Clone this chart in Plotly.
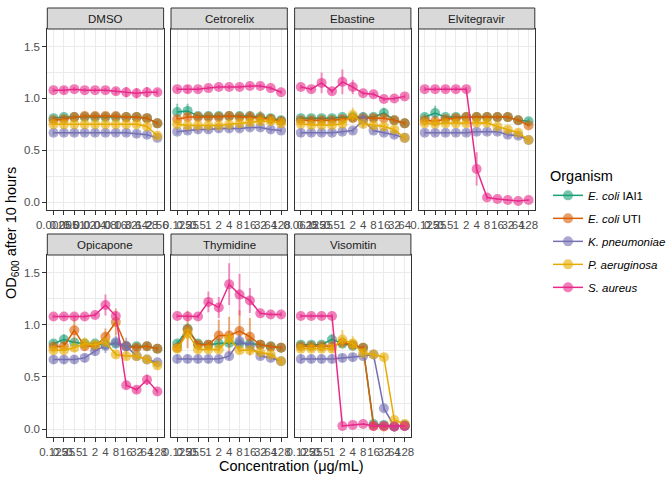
import plotly.graph_objects as go

# ---------------- data ----------------
drugs = ["DMSO", "Cetrorelix", "Ebastine", "Elvitegravir", "Opicapone", "Thymidine", "Visomitin"]

conc_dmso = ["0.0025", "0.005", "0.01", "0.02", "0.04", "0.08", "0.16", "0.32", "0.64", "1.28", "2.56"]
conc_std = ["0.125", "0.25", "0.5", "1", "2", "4", "8", "16", "32", "64", "128"]
conc_ebastine = ["0.0625", "0.125", "0.25", "0.5", "1", "2", "4", "8", "16", "32", "64"]

organisms = ["E. coli IAI1", "E. coli UTI", "K. pneumoniae", "P. aeruginosa", "S. aureus"]
organism_labels = ["<i>E. coli</i> IAI1", "<i>E. coli</i> UTI", "<i>K. pneumoniae</i>",
                   "<i>P. aeruginosa</i>", "<i>S. aureus</i>"]
colors = ["#1B9E77", "#D95F02", "#7570B3", "#E6AB02", "#E7298A"]

od_dmso = {
    "E. coli IAI1": [0.81, 0.82, 0.82, 0.82, 0.82, 0.82, 0.82, 0.82, 0.82, 0.81, 0.76],
    "E. coli UTI": [0.79, 0.80, 0.82, 0.83, 0.83, 0.83, 0.83, 0.82, 0.82, 0.81, 0.76],
    "K. pneumoniae": [0.67, 0.67, 0.67, 0.67, 0.67, 0.67, 0.67, 0.67, 0.66, 0.65, 0.62],
    "P. aeruginosa": [0.75, 0.75, 0.75, 0.75, 0.75, 0.75, 0.75, 0.75, 0.75, 0.73, 0.64],
    "S. aureus": [1.08, 1.08, 1.09, 1.08, 1.08, 1.08, 1.07, 1.06, 1.05, 1.06, 1.06],
}
sd_dmso = {
    "E. coli IAI1": [0.02, 0.02, 0.02, 0.02, 0.02, 0.02, 0.02, 0.02, 0.02, 0.02, 0.02],
    "E. coli UTI": [0.02, 0.02, 0.02, 0.02, 0.02, 0.02, 0.02, 0.02, 0.02, 0.02, 0.02],
    "K. pneumoniae": [0.03, 0.03, 0.03, 0.03, 0.03, 0.03, 0.03, 0.03, 0.03, 0.03, 0.02],
    "P. aeruginosa": [0.03, 0.03, 0.03, 0.03, 0.03, 0.03, 0.03, 0.03, 0.03, 0.04, 0.03],
    "S. aureus": [0.02, 0.03, 0.02, 0.02, 0.02, 0.02, 0.03, 0.05, 0.05, 0.05, 0.03],
}

od_cetrorelix = {
    "E. coli IAI1": [0.87, 0.88, 0.83, 0.83, 0.83, 0.83, 0.83, 0.83, 0.82, 0.81, 0.79],
    "E. coli UTI": [0.80, 0.82, 0.82, 0.82, 0.82, 0.83, 0.82, 0.82, 0.81, 0.80, 0.78],
    "K. pneumoniae": [0.68, 0.69, 0.70, 0.70, 0.71, 0.71, 0.71, 0.72, 0.72, 0.70, 0.69],
    "P. aeruginosa": [0.75, 0.74, 0.74, 0.74, 0.74, 0.75, 0.76, 0.77, 0.78, 0.78, 0.76],
    "S. aureus": [1.09, 1.09, 1.09, 1.10, 1.11, 1.11, 1.11, 1.12, 1.12, 1.10, 1.06],
}
sd_cetrorelix = {
    "E. coli IAI1": [0.08, 0.07, 0.02, 0.02, 0.02, 0.02, 0.02, 0.03, 0.03, 0.03, 0.04],
    "E. coli UTI": [0.03, 0.03, 0.02, 0.02, 0.02, 0.03, 0.03, 0.06, 0.07, 0.05, 0.03],
    "K. pneumoniae": [0.03, 0.03, 0.03, 0.03, 0.03, 0.03, 0.03, 0.03, 0.03, 0.03, 0.02],
    "P. aeruginosa": [0.03, 0.03, 0.03, 0.03, 0.03, 0.03, 0.03, 0.03, 0.03, 0.03, 0.03],
    "S. aureus": [0.02, 0.04, 0.02, 0.02, 0.02, 0.02, 0.02, 0.02, 0.02, 0.02, 0.02],
}

od_ebastine = {
    "E. coli IAI1": [0.81, 0.81, 0.81, 0.81, 0.82, 0.82, 0.82, 0.82, 0.86, 0.79, 0.76],
    "E. coli UTI": [0.79, 0.79, 0.79, 0.79, 0.80, 0.81, 0.81, 0.81, 0.81, 0.79, 0.76],
    "K. pneumoniae": [0.67, 0.67, 0.67, 0.67, 0.68, 0.69, 0.79, 0.69, 0.67, 0.65, 0.62],
    "P. aeruginosa": [0.755, 0.745, 0.745, 0.745, 0.755, 0.84, 0.755, 0.74, 0.73, 0.70, 0.62],
    "S. aureus": [1.11, 1.09, 1.15, 1.07, 1.16, 1.11, 1.05, 1.04, 0.995, 1.00, 1.02],
}
sd_ebastine = {
    "E. coli IAI1": [0.02, 0.02, 0.02, 0.03, 0.02, 0.02, 0.02, 0.02, 0.05, 0.02, 0.02],
    "E. coli UTI": [0.02, 0.02, 0.02, 0.02, 0.02, 0.03, 0.02, 0.02, 0.02, 0.02, 0.02],
    "K. pneumoniae": [0.04, 0.03, 0.03, 0.03, 0.03, 0.03, 0.08, 0.03, 0.03, 0.03, 0.02],
    "P. aeruginosa": [0.03, 0.03, 0.03, 0.03, 0.03, 0.07, 0.03, 0.03, 0.03, 0.03, 0.02],
    "S. aureus": [0.02, 0.02, 0.10, 0.02, 0.12, 0.07, 0.02, 0.02, 0.02, 0.02, 0.02],
}

od_elvitegravir = {
    "E. coli IAI1": [0.82, 0.86, 0.82, 0.82, 0.82, 0.82, 0.82, 0.82, 0.82, 0.79, 0.78],
    "E. coli UTI": [0.79, 0.78, 0.80, 0.81, 0.82, 0.82, 0.82, 0.82, 0.82, 0.79, 0.74],
    "K. pneumoniae": [0.67, 0.67, 0.67, 0.67, 0.67, 0.68, 0.68, 0.68, 0.65, 0.64, 0.60],
    "P. aeruginosa": [0.76, 0.755, 0.76, 0.76, 0.76, 0.765, 0.765, 0.73, 0.70, 0.67, 0.60],
    "S. aureus": [1.09, 1.09, 1.09, 1.09, 1.09, 0.32, 0.045, 0.03, 0.02, 0.01, 0.02],
}
sd_elvitegravir = {
    "E. coli IAI1": [0.03, 0.07, 0.02, 0.02, 0.02, 0.02, 0.02, 0.02, 0.02, 0.02, 0.03],
    "E. coli UTI": [0.02, 0.02, 0.02, 0.02, 0.02, 0.02, 0.02, 0.02, 0.02, 0.02, 0.02],
    "K. pneumoniae": [0.03, 0.03, 0.03, 0.03, 0.03, 0.03, 0.03, 0.03, 0.03, 0.03, 0.02],
    "P. aeruginosa": [0.03, 0.03, 0.03, 0.03, 0.03, 0.03, 0.03, 0.03, 0.03, 0.03, 0.03],
    "S. aureus": [0.02, 0.02, 0.02, 0.02, 0.02, 0.16, 0.02, 0.01, 0.01, 0.01, 0.01],
}

od_opicapone = {
    "E. coli IAI1": [0.82, 0.86, 0.83, 0.82, 0.82, 0.81, 0.82, 0.795, 0.795, 0.795, 0.77],
    "E. coli UTI": [0.79, 0.795, 0.947, 0.795, 0.795, 0.886, 1.027, 0.795, 0.78, 0.795, 0.77],
    "K. pneumoniae": [0.667, 0.667, 0.667, 0.683, 0.747, 0.80, 0.834, 0.795, 0.70, 0.667, 0.64],
    "P. aeruginosa": [0.757, 0.757, 0.78, 0.82, 0.81, 0.834, 0.715, 0.70, 0.70, 0.667, 0.61],
    "S. aureus": [1.08, 1.08, 1.08, 1.08, 1.095, 1.19, 1.085, 0.42, 0.377, 0.473, 0.36],
}
sd_opicapone = {
    "E. coli IAI1": [0.03, 0.05, 0.02, 0.02, 0.02, 0.02, 0.02, 0.02, 0.02, 0.02, 0.02],
    "E. coli UTI": [0.03, 0.04, 0.12, 0.04, 0.03, 0.08, 0.13, 0.03, 0.04, 0.03, 0.02],
    "K. pneumoniae": [0.04, 0.04, 0.04, 0.04, 0.04, 0.07, 0.06, 0.08, 0.03, 0.03, 0.02],
    "P. aeruginosa": [0.03, 0.03, 0.04, 0.06, 0.03, 0.03, 0.03, 0.03, 0.03, 0.03, 0.03],
    "S. aureus": [0.02, 0.02, 0.02, 0.02, 0.02, 0.10, 0.04, 0.03, 0.03, 0.05, 0.02],
}

od_thymidine = {
    "E. coli IAI1": [0.82, 0.963, 0.82, 0.81, 0.82, 0.826, 0.82, 0.82, 0.81, 0.795, 0.78],
    "E. coli UTI": [0.78, 0.956, 0.81, 0.81, 0.898, 0.898, 0.94, 0.886, 0.81, 0.79, 0.78],
    "K. pneumoniae": [0.673, 0.673, 0.673, 0.673, 0.673, 0.70, 0.844, 0.80, 0.70, 0.683, 0.65],
    "P. aeruginosa": [0.77, 0.918, 0.763, 0.763, 0.763, 0.867, 0.757, 0.757, 0.737, 0.715, 0.65],
    "S. aureus": [1.085, 1.08, 1.08, 1.22, 1.166, 1.39, 1.29, 1.234, 1.11, 1.10, 1.10],
}
sd_thymidine = {
    "E. coli IAI1": [0.03, 0.05, 0.02, 0.02, 0.03, 0.03, 0.02, 0.02, 0.02, 0.02, 0.02],
    "E. coli UTI": [0.03, 0.18, 0.03, 0.03, 0.15, 0.18, 0.20, 0.18, 0.03, 0.03, 0.02],
    "K. pneumoniae": [0.04, 0.04, 0.04, 0.04, 0.04, 0.04, 0.06, 0.04, 0.03, 0.03, 0.02],
    "P. aeruginosa": [0.03, 0.06, 0.03, 0.03, 0.03, 0.05, 0.03, 0.03, 0.03, 0.03, 0.03],
    "S. aureus": [0.02, 0.02, 0.02, 0.10, 0.10, 0.20, 0.20, 0.12, 0.02, 0.02, 0.02],
}

od_visomitin = {
    "E. coli IAI1": [0.81, 0.81, 0.81, 0.86, 0.82, 0.80, 0.78, 0.048, 0.04, 0.025, 0.04],
    "E. coli UTI": [0.795, 0.795, 0.795, 0.795, 0.83, 0.81, 0.78, 0.03, 0.025, 0.025, 0.03],
    "K. pneumoniae": [0.673, 0.673, 0.673, 0.673, 0.683, 0.69, 0.70, 0.715, 0.20, 0.025, 0.03],
    "P. aeruginosa": [0.77, 0.77, 0.77, 0.77, 0.86, 0.82, 0.73, 0.715, 0.69, 0.087, 0.048],
    "S. aureus": [1.085, 1.085, 1.085, 1.085, 0.03, 0.04, 0.048, 0.03, 0.03, 0.025, 0.03],
}
sd_visomitin = {
    "E. coli IAI1": [0.03, 0.03, 0.02, 0.05, 0.02, 0.02, 0.02, 0.01, 0.01, 0.01, 0.01],
    "E. coli UTI": [0.02, 0.02, 0.02, 0.02, 0.03, 0.02, 0.02, 0.01, 0.01, 0.01, 0.01],
    "K. pneumoniae": [0.04, 0.04, 0.04, 0.04, 0.04, 0.04, 0.03, 0.03, 0.03, 0.01, 0.01],
    "P. aeruginosa": [0.03, 0.03, 0.03, 0.03, 0.09, 0.07, 0.03, 0.03, 0.03, 0.02, 0.01],
    "S. aureus": [0.02, 0.02, 0.02, 0.02, 0.01, 0.01, 0.01, 0.01, 0.01, 0.01, 0.01],
}

concentrations = {"DMSO": conc_dmso, "Cetrorelix": conc_std, "Ebastine": conc_ebastine,
                  "Elvitegravir": conc_std, "Opicapone": conc_std, "Thymidine": conc_std,
                  "Visomitin": conc_std}
od_values = {"DMSO": od_dmso, "Cetrorelix": od_cetrorelix, "Ebastine": od_ebastine,
             "Elvitegravir": od_elvitegravir, "Opicapone": od_opicapone,
             "Thymidine": od_thymidine, "Visomitin": od_visomitin}
od_sd = {"DMSO": sd_dmso, "Cetrorelix": sd_cetrorelix, "Ebastine": sd_ebastine,
         "Elvitegravir": sd_elvitegravir, "Opicapone": sd_opicapone,
         "Thymidine": sd_thymidine, "Visomitin": sd_visomitin}

# ---------------- layout geometry ----------------
W, H = 672, 480
panel_left = [47.3, 171.0, 294.6, 418.5]
panel_w = 116.3
rows = [(29.0, 210.0, 8.0), (255.0, 437.0, 234.0)]  # panel top, panel bottom, strip top

FONT = "Liberation Sans, Arial, Helvetica, sans-serif"
TICK_COL = "#4D4D4D"
GRID = "#EBEBEB"
BORDER = "#333333"


def hex_rgba(h, a):
    h = h.lstrip("#")
    return "rgba(%d,%d,%d,%.2f)" % (int(h[0:2], 16), int(h[2:4], 16), int(h[4:6], 16), a)


fig = go.Figure()
layout = {}
shapes = []
annotations = []

for i, drug in enumerate(drugs):
    r, c = divmod(i, 4)
    n = i + 1
    xa = "x" if n == 1 else "x%d" % n
    ya = "y" if n == 1 else "y%d" % n
    x0 = panel_left[c]
    x1 = x0 + panel_w
    top, bot, stop = rows[r]
    cats = concentrations[drug]
    for k, org in enumerate(organisms):
        fig.add_trace(go.Scatter(
            x=cats, y=od_values[drug][org],
            mode="lines+markers",
            name=organism_labels[k],
            legendgroup=org,
            showlegend=(i == 0),
            line=dict(color=colors[k], width=1.5),
            marker=dict(color=hex_rgba(colors[k], 0.6), size=10, line=dict(width=0)),
            error_y=dict(type="data", array=od_sd[drug][org], visible=True,
                         color=hex_rgba(colors[k], 0.5), thickness=2, width=0),
            xaxis=xa, yaxis=ya,
            cliponaxis=False,
        ))
    layout["xaxis" if n == 1 else "xaxis%d" % n] = dict(
        domain=[x0 / W, x1 / W], anchor=ya,
        type="category", categoryorder="array", categoryarray=cats,
        range=[-0.6, len(cats) - 0.4],
        tickmode="array", tickvals=cats, ticktext=cats, tickangle=0,
        ticks="outside", ticklen=4, tickwidth=1, tickcolor=BORDER,
        tickfont=dict(family=FONT, size=11.5, color=TICK_COL),
        showgrid=True, gridcolor=GRID, gridwidth=1.1,
        showline=True, mirror=True, linecolor=BORDER, linewidth=1,
        zeroline=False, fixedrange=True, automargin=False,
    )
    layout["yaxis" if n == 1 else "yaxis%d" % n] = dict(
        domain=[1 - bot / H, 1 - top / H], anchor=xa,
        range=[-0.076, 1.67],
        tickvals=[0, 0.5, 1.0, 1.5], ticktext=["0.0", "0.5", "1.0", "1.5"],
        ticks="outside" if c == 0 else "", ticklen=4, tickwidth=1, tickcolor=BORDER,
        showticklabels=(c == 0),
        tickfont=dict(family=FONT, size=11.5, color=TICK_COL),
        showgrid=True, gridcolor=GRID, gridwidth=1.1,
        minor=dict(tickvals=[0.25, 0.75, 1.25], showgrid=True, gridcolor=GRID, gridwidth=0.55,
                   ticks=""),
        showline=True, mirror=True, linecolor=BORDER, linewidth=1,
        zeroline=False, fixedrange=True, automargin=False,
    )
    # strip
    shapes.append(dict(type="rect", xref="paper", yref="paper",
                       x0=x0 / W, x1=x1 / W, y0=1 - top / H, y1=1 - stop / H,
                       fillcolor="#D9D9D9", line=dict(color=BORDER, width=1), layer="above"))
    annotations.append(dict(text=drug, xref="paper", yref="paper",
                            x=(x0 + x1) / 2 / W, y=1 - (top + stop) / 2 / H,
                            xanchor="center", yanchor="middle", showarrow=False,
                            font=dict(family=FONT, size=11.5, color="#1A1A1A")))

annotations.append(dict(text="Concentration (\u03bcg/mL)", xref="paper", yref="paper",
                        x=(panel_left[0] + panel_left[3] + panel_w) / 2 / W, y=1 - 466 / H,
                        xanchor="center", yanchor="middle", showarrow=False,
                        font=dict(family=FONT, size=14.5, color="black")))
annotations.append(dict(text="OD<sub>600</sub> after 10 hours", xref="paper", yref="paper",
                        x=12 / W, y=1 - 233 / H, textangle=-90,
                        xanchor="center", yanchor="middle", showarrow=False,
                        font=dict(family=FONT, size=14.5, color="black")))

fig.update_layout(
    width=W, height=H,
    margin=dict(l=0, r=0, t=0, b=0, autoexpand=False),
    paper_bgcolor="white", plot_bgcolor="white",
    shapes=shapes, annotations=annotations,
    legend=dict(x=548 / W, y=1 - 162 / H, xanchor="left", yanchor="top",
                title=dict(text="Organism", font=dict(family=FONT, size=14.5, color="black")),
                font=dict(family=FONT, size=11.5, color="black"),
                tracegroupgap=4, bgcolor="rgba(0,0,0,0)", itemwidth=30),
    **layout,
)

fig.write_html("out.html", config={"displayModeBar": False},
               post_script="document.body.style.margin='0px';document.body.style.overflow='hidden';")
